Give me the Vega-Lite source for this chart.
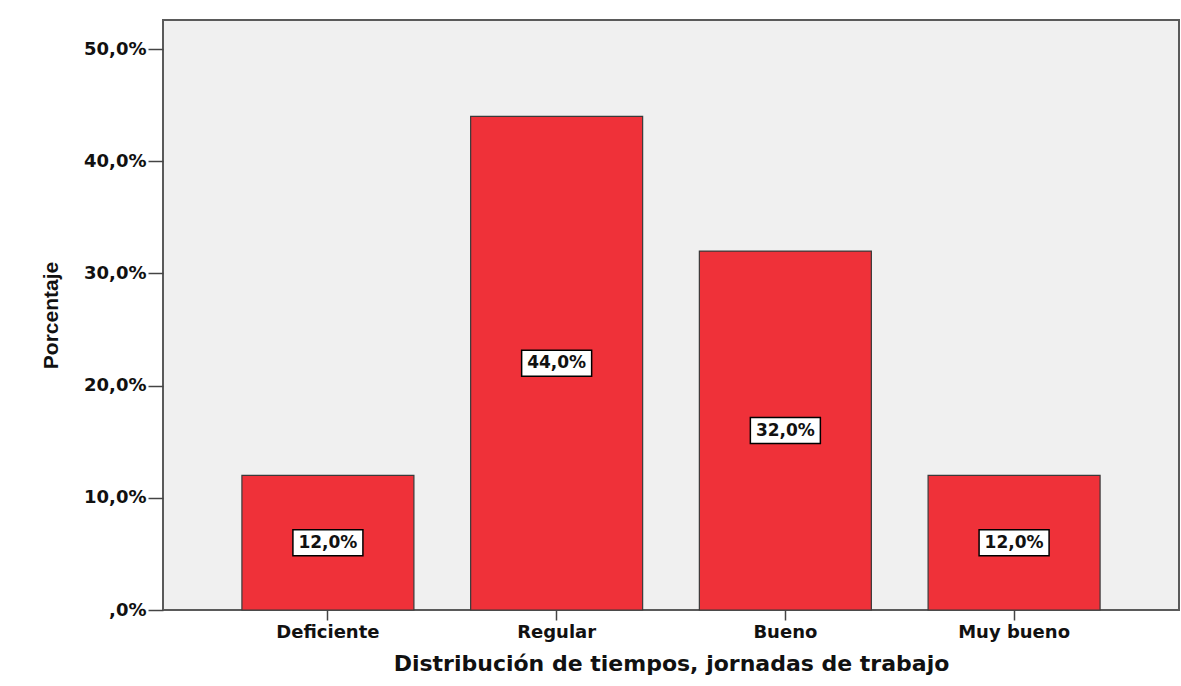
{
  "$schema": "https://vega.github.io/schema/vega-lite/v6.json",
  "width": 1016,
  "height": 590,
  "autosize": {"type": "none"},
  "padding": {"left": 163, "top": 20, "right": 2, "bottom": 76},
  "background": "white",
  "config": {
    "view": {"fill": "#F0F0F0", "stroke": "#5A5A5A", "strokeWidth": 2}
  },
  "data": {
    "values": [
      {"categoria": "Deficiente", "porcentaje": 12, "etiqueta": "12,0%"},
      {"categoria": "Regular", "porcentaje": 44, "etiqueta": "44,0%"},
      {"categoria": "Bueno", "porcentaje": 32, "etiqueta": "32,0%"},
      {"categoria": "Muy bueno", "porcentaje": 12, "etiqueta": "12,0%"}
    ]
  },
  "encoding": {
    "x": {
      "field": "categoria",
      "type": "nominal",
      "sort": null,
      "scale": {"paddingInner": 0.248, "paddingOuter": 0.345},
      "axis": {
        "title": "Distribución de tiempos, jornadas de trabajo",
        "titleFont": "DejaVu Sans",
        "titleFontSize": 22,
        "titleFontWeight": "bold",
        "titleColor": "#111111",
        "titlePadding": 12,
        "labelAngle": 0,
        "labelFont": "DejaVu Sans",
        "labelFontSize": 18,
        "labelFontWeight": "bold",
        "labelColor": "#111111",
        "labelPadding": 3,
        "tickSize": 10,
        "tickColor": "#444444",
        "tickWidth": 1.5,
        "domain": false
      }
    }
  },
  "layer": [
    {
      "mark": {"type": "bar", "fill": "#EF3139", "stroke": "#3A3A3A", "strokeWidth": 1.2},
      "encoding": {
        "y": {
          "field": "porcentaje",
          "type": "quantitative",
          "scale": {"domain": [0, 52.6], "nice": false},
          "axis": {
            "title": "Porcentaje",
            "titleFont": "Liberation Sans",
            "titleFontSize": 21,
            "titleFontWeight": "bold",
            "titleColor": "#111111",
            "titlePadding": 22,
            "values": [0, 10, 20, 30, 40, 50],
            "labelExpr": "datum.value == 0 ? ',0%' : replace(format(datum.value, '.1f'), '.', ',') + '%'",
            "labelFont": "DejaVu Sans",
            "labelFontSize": 18,
            "labelFontWeight": "bold",
            "labelColor": "#111111",
            "labelPadding": 2,
            "tickSize": 15,
            "tickColor": "#444444",
            "tickWidth": 1.5,
            "grid": false,
            "domain": false
          }
        }
      }
    },
    {
      "mark": {
        "type": "point",
        "shape": "M-1,-0.3714H1V0.3714H-1Z",
        "size": 4900,
        "filled": true,
        "fill": "white",
        "stroke": "black",
        "strokeWidth": 1.5,
        "opacity": 1
      },
      "encoding": {
        "y": {
          "field": "porcentaje",
          "type": "quantitative",
          "scale": {"domain": [0, 105.2], "nice": false},
          "axis": null
        }
      }
    },
    {
      "mark": {
        "type": "text",
        "font": "DejaVu Sans",
        "fontSize": 17,
        "fontWeight": "bold",
        "color": "#111111",
        "baseline": "middle",
        "align": "center"
      },
      "encoding": {
        "y": {
          "field": "porcentaje",
          "type": "quantitative",
          "scale": {"domain": [0, 105.2], "nice": false},
          "axis": null
        },
        "text": {"field": "etiqueta"}
      }
    }
  ],
  "resolve": {"scale": {"y": "independent"}}
}
